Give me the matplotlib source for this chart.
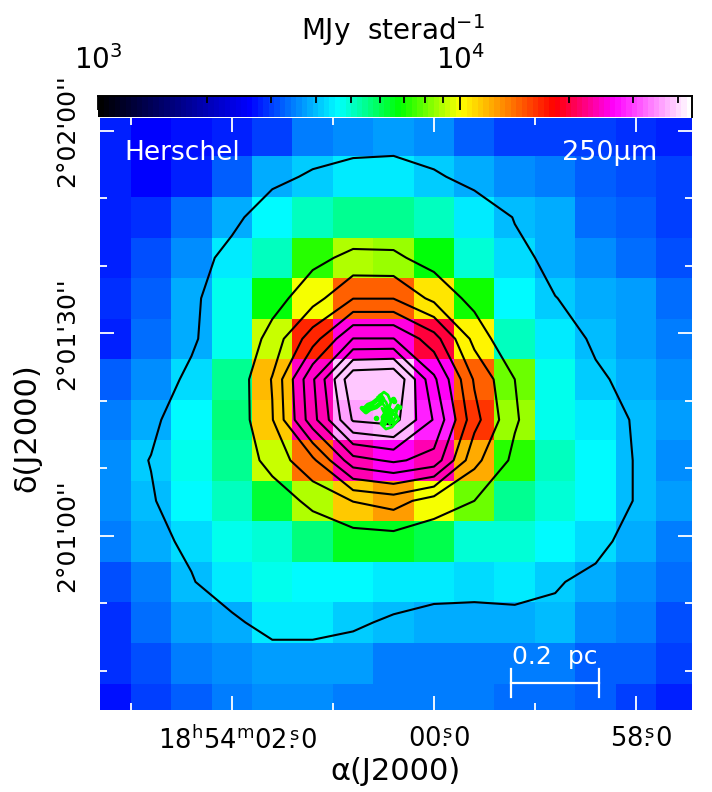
import matplotlib as mpl
mpl.use('agg')
import matplotlib.pyplot as plt
import numpy as np
from matplotlib.colors import LinearSegmentedColormap, LogNorm
from matplotlib.cm import ScalarMappable
from matplotlib.ticker import LogLocator, NullFormatter, FixedLocator, FixedFormatter
from matplotlib.transforms import ScaledTranslation

plt.rcParams['font.family'] = ['DejaVu Sans']
plt.rcParams['mathtext.fontset'] = 'dejavusans'
plt.rcParams['mathtext.default'] = 'regular'

# RA in seconds from 18h54m00s, Dec in arcsec from 2d01m00s
ra_centres = [3.2, 2.8, 2.4, 2.0, 1.6, 1.2, 0.8, 0.4, 0.0, -0.4, -0.8, -1.2, -1.6, -2.0, -2.4]
dec_centres = [59.2, 53.2, 47.2, 41.2, 35.2, 29.2, 23.2, 17.2, 11.2, 5.2, -0.8, -6.8, -12.8, -18.8, -24.8]

# 250 micron map, MJy/sr, top row first
flux = [
    [2770, 2650, 2700, 2830, 3040, 3480, 3640, 3720, 3600, 3250, 3040, 3000, 2970, 2870, 2770],
    [2770, 2650, 2770, 3250, 3800, 4180, 4400, 4400, 4150, 3820, 3640, 3480, 3250, 3150, 2970],
    [2830, 2900, 3330, 3800, 4610, 5050, 5400, 5550, 5050, 4500, 4020, 3800, 3400, 3180, 2970],
    [2830, 3070, 3640, 4350, 5150, 7270, 8850, 8700, 6800, 4950, 4200, 3900, 3640, 3330, 3150],
    [2900, 3180, 3830, 4750, 6820, 10000, 14700, 14700, 10500, 7000, 4610, 4060, 3900, 3700, 3370],
    [2830, 3400, 3900, 4800, 9300, 16700, 25400, 25400, 19800, 10300, 5000, 4400, 3945, 3740, 3480],
    [3180, 3560, 4250, 5500, 11600, 24800, 38500, 39200, 26000, 14400, 8100, 4750, 4150, 3860, 3640],
    [3430, 3860, 4610, 5650, 11200, 24000, 36000, 36900, 28500, 16000, 8500, 4750, 4450, 3970, 3700],
    [3640, 4080, 4700, 5500, 9300, 14000, 24000, 25900, 24000, 12300, 7300, 5000, 4610, 4000, 3640],
    [3640, 3970, 4610, 5050, 6240, 8950, 11500, 12800, 9800, 8100, 5500, 4950, 4610, 4000, 3700],
    [3480, 3840, 4200, 4750, 4850, 5600, 6400, 6500, 6000, 4850, 4850, 4610, 4230, 3800, 3480],
    [3070, 3430, 4000, 4500, 4700, 4650, 4610, 4450, 4350, 4300, 4350, 4100, 3900, 3640, 3400],
    [2950, 3330, 3760, 3900, 4350, 4350, 4150, 3950, 3800, 3800, 3820, 3920, 3640, 3450, 3100],
    [2870, 3150, 3430, 3640, 3650, 3650, 3700, 3480, 3480, 3460, 3450, 3430, 3250, 3180, 2970],
    [2700, 2970, 3250, 3480, 3560, 3560, 3430, 3430, 3430, 3430, 3400, 3350, 3180, 2970, 2770],
]
contour_levels = [4050, 8100, 11400, 14800, 18300, 21800, 25300, 28800, 32200, 35600]

# green emission, thick arm then the tangle
arm_ra = [0.693, 0.653, 0.604, 0.554, 0.525, 0.505, 0.535, 0.574, 0.634, 0.673, 0.713]
arm_dec = [18.80, 19.39, 19.68, 20.28, 20.72, 20.28, 19.54, 19.09, 18.80, 18.35, 18.94]
tangle_ra = [0.554, 0.495, 0.455, 0.426, 0.446, 0.396, 0.356, 0.376, 0.347, 0.416, 0.475, 0.525,
             0.495, 0.455, 0.406, 0.475, 0.515, 0.485, 0.436, 0.505, 0.535, 0.475, 0.416, 0.495,
             0.446, 0.376, 0.436, 0.515, 0.455, 0.396]
tangle_dec = [20.57, 21.31, 20.87, 19.83, 18.80, 18.50, 19.39, 18.06, 17.32, 16.13, 15.84, 16.58,
              17.91, 17.32, 16.72, 18.50, 17.61, 16.43, 18.20, 19.54, 20.87, 19.83, 17.91, 16.72,
              19.09, 17.61, 16.58, 18.94, 18.35, 17.00]
dots_ra = [0.396, 0.574, 0.406, 0.347]
dots_dec = [20.00, 17.46, 20.28, 19.09]

ra_major = [2, 0, -2]
ra_minor = [3, 1, -1]
ra_labels = [r'18$^{h}$54$^{m}$02$\overset{s}{.}$0', r'00$\overset{s}{.}$0', r'58$\overset{s}{.}$0']
dec_major = [60, 30, 0]
dec_minor = [50, 40, 20, 10, -10, -20]
dec_labels = ["2°02'00''", "2°01'30''", "2°01'00''"]

# black-blue-cyan-green-yellow-red-magenta-white, stepped
anchors = [(0.0, '#000000'), (0.2525, '#0000ff'), (0.404, '#00ffff'), (0.508, '#00ff00'),
           (0.611, '#ffff00'), (0.771, '#ff0000'), (0.872, '#ff00ff'), (1.0, '#ffffff')]
cmap = LinearSegmentedColormap.from_list('pg', anchors, N=108)
norm = LogNorm(vmin=1000, vmax=43750)

W, H = 712, 792
fig = plt.figure(figsize=(W / 100, H / 100), dpi=100)
ax = fig.add_axes([100 / W, 1 - 709.5 / H, 592 / W, 591.5 / H])
cax = fig.add_axes([98 / W, 1 - 116.5 / H, 594 / W, 20.5 / H])

ax.imshow(flux, cmap=cmap, norm=norm, aspect='auto', interpolation='nearest',
          extent=(3.4, -2.6, -27.8, 62.2), origin='upper')
ax.contour(ra_centres, dec_centres, flux, levels=contour_levels, colors='black', linewidths=1.5)

ax.plot(arm_ra, arm_dec, color='#00ff00', lw=3.4, solid_capstyle='round')
ax.plot(tangle_ra, tangle_dec, color='#00ff00', lw=2.0)
ax.plot(dots_ra, dots_dec, 'o', color='#00ff00', ms=3)

ax.set_xlim(3.305, -2.554)
ax.set_ylim(-25.7, 61.9)
for s in ax.spines.values():
    s.set_visible(False)

ax.xaxis.set_major_locator(FixedLocator(ra_major))
ax.xaxis.set_major_formatter(FixedFormatter(ra_labels))
ax.xaxis.set_minor_locator(FixedLocator(ra_minor))
ax.yaxis.set_major_locator(FixedLocator(dec_major))
ax.yaxis.set_major_formatter(FixedFormatter(dec_labels))
ax.yaxis.set_minor_locator(FixedLocator(dec_minor))
ax.tick_params(which='both', direction='in', color='white', width=1.3, top=True, right=True,
               labelcolor='black')
ax.tick_params(which='major', length=10)
ax.tick_params(which='minor', length=5)
ax.tick_params(axis='x', which='major', labelsize=18.5, pad=12)
ax.tick_params(axis='y', which='major', labelsize=18, pad=15)
for t in ax.get_yticklabels():
    t.set_rotation(90)
    t.set_va('center')
for t in ax.get_xticklabels():
    t.set_transform(t.get_transform() + ScaledTranslation(4 / 72, 0, fig.dpi_scale_trans))

# colour wedge along the top
cb = fig.colorbar(ScalarMappable(norm=norm, cmap=cmap), cax=cax, orientation='horizontal')
cb.outline.set_visible(False)
cax.spines['top'].set_visible(True)
cax.spines['right'].set_visible(True)
cax.spines['top'].set_linewidth(1.4)
cax.spines['right'].set_linewidth(1.4)
cax.xaxis.set_ticks_position('top')
cax.xaxis.set_major_locator(LogLocator(base=10))
cax.xaxis.set_minor_locator(LogLocator(base=10, subs=range(2, 10)))
cax.xaxis.set_minor_formatter(NullFormatter())
cax.tick_params(which='both', direction='in', color='black', width=1.3)
cax.tick_params(which='major', length=10, labelsize=20, pad=15)
cax.tick_params(which='minor', length=5)

fig.text(393 / W, 1 - 40 / H, r'MJy  sterad$^{-1}$', fontsize=20, ha='center', va='baseline')
fig.text(395 / W, 1 - 780 / H, 'α(J2000)', fontsize=22, ha='center', va='baseline')
fig.text(27 / W, 1 - 428 / H, 'δ(J2000)', fontsize=22, ha='center', va='center', rotation=90)

ax.text(0.0405, 0.929, 'Herschel', color='white', fontsize=19, transform=ax.transAxes, va='baseline')
ax.text(0.941, 0.929, '250μm', color='white', fontsize=19.5, ha='right', transform=ax.transAxes, va='baseline')

# 0.2 pc scale bar
ax.plot([-0.762, -1.631], [-21.76, -21.76], color='white', lw=1.6)
ax.plot([-0.762, -0.762], [-19.68, -23.83], color='white', lw=1.6)
ax.plot([-1.631, -1.631], [-19.68, -23.83], color='white', lw=1.6)
ax.text(0.7686, 0.0769, '0.2  pc', color='white', fontsize=18, ha='center', transform=ax.transAxes, va='baseline')

fig.savefig('out.png', dpi=100)
